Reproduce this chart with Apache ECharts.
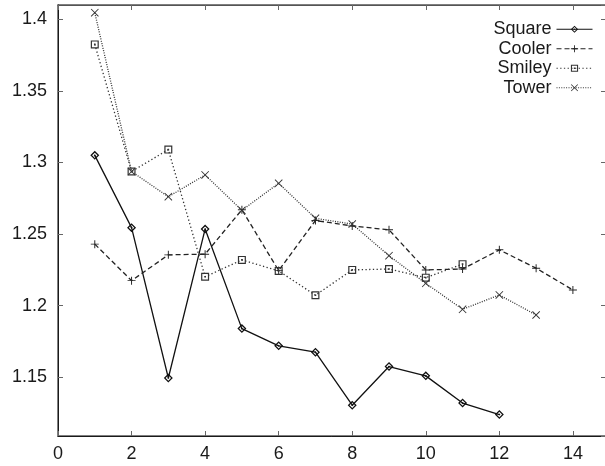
<!DOCTYPE html>
<html>
<head>
<meta charset="utf-8">
<script src="https://cdn.jsdelivr.net/npm/echarts@6/dist/echarts.min.js"></script>
<style>
  html, body { margin: 0; padding: 0; background: #fff; }
  #chart { width: 605px; height: 466px; }
</style>
</head>
<body>
<div id="chart"></div>
<script>
// x positions shared by all series
var steps = [1, 2, 3, 4, 5, 6, 7, 8, 9, 10, 11, 12, 13, 14];

// measured values per series
var square = [1.305, 1.2545, 1.1495, 1.2535, 1.184, 1.172, 1.1675, 1.1305, 1.1575, 1.151, 1.132, 1.124];
var cooler = [1.243, 1.2175, 1.2355, 1.236, 1.267, 1.2245, 1.2595, 1.2557, 1.253, 1.225, 1.2256, 1.239, 1.2262, 1.211];
var smiley = [1.3825, 1.2937, 1.309, 1.2202, 1.232, 1.2243, 1.2073, 1.225, 1.2256, 1.2196, 1.229];
var tower  = [1.4046, 1.2937, 1.2761, 1.2913, 1.2666, 1.2855, 1.261, 1.257, 1.2349, 1.2156, 1.1975, 1.2075, 1.1935];

var seriesNames = ['Square', 'Cooler', 'Smiley', 'Tower'];

// point glyphs in the classic plotting-terminal style
var SYM_DIAMOND = 'path://M50,0L100,50L50,100L0,50ZM50,20L20,50L50,80L80,50ZM50,38L62,50L50,62L38,50Z';
var SYM_PLUS = 'path://M44,0L56,0L56,100L44,100ZM0,44L100,44L100,56L0,56Z';
var SYM_BOX = 'path://M0,0L100,0L100,100L0,100ZM15,15L15,85L85,85L85,15ZM40,40L60,40L60,60L40,60Z';
var SYM_CROSS = 'path://M0,8L8,0L100,92L92,100ZM92,0L100,8L8,100L0,92Z';

function pairs(vals) {
  return vals.map(function (v, i) { return [steps[i], v]; });
}

var FONT = '"Liberation Sans", Arial, Helvetica, sans-serif';
var INK = '#1a1a1a';

function lineSeries(name, vals, symbol, size, dash, color) {
  return {
    name: name,
    type: 'line',
    data: pairs(vals),
    symbol: symbol,
    symbolSize: size,
    showAllSymbol: true,
    animation: false,
    z: 3,
    lineStyle: { color: color, width: 1.3, type: dash },
    itemStyle: { color: color, borderWidth: 0 }
  };
}

var chart = echarts.init(document.getElementById('chart'), null, { renderer: 'canvas' });

chart.setOption({
  backgroundColor: '#fff',
  animation: false,
  // frame: the right edge sits just past the canvas, so only top/left/bottom show
  grid: {
    left: 58, top: 5, width: 548, height: 431, containLabel: false,
    outerBoundsMode: 'none',
    show: true, borderColor: '#555', borderWidth: 1.5, backgroundColor: 'transparent'
  },
  legend: {
    data: seriesNames,
    orient: 'vertical',
    right: 12,
    top: 20,
    padding: 0,
    align: 'right',
    itemWidth: 36,
    itemHeight: 9,
    itemGap: 1,
    selectedMode: false,
    lineStyle: { width: 1 },
    textStyle: { fontFamily: FONT, fontSize: 18, color: INK, lineHeight: 18.5 }
  },
  xAxis: [{
    type: 'value',
    min: 0,
    max: 14.9,
    interval: 2,
    position: 'bottom',
    splitLine: { show: false },
    axisLine: { show: true, lineStyle: { color: INK, width: 1 } },
    axisTick: { show: true, inside: true, length: 5, lineStyle: { color: '#666', width: 1 } },
    axisLabel: { fontFamily: FONT, fontSize: 18, color: INK, margin: 9, showMaxLabel: false }
  }, {
    type: 'value',
    min: 0,
    max: 14.9,
    interval: 2,
    position: 'top',
    splitLine: { show: false },
    axisLine: { show: true, onZero: false, lineStyle: { color: '#555', width: 1.2 } },
    axisTick: { show: true, inside: true, length: 5, lineStyle: { color: '#666', width: 1 } },
    axisLabel: { show: false }
  }],
  yAxis: [{
    type: 'value',
    min: 1.109,
    max: 1.41,
    splitNumber: 6,
    position: 'left',
    splitLine: { show: false },
    axisLine: { show: true, lineStyle: { color: INK, width: 1 } },
    axisTick: { show: true, inside: true, length: 5, lineStyle: { color: '#666', width: 1 } },
    axisLabel: {
      fontFamily: FONT, fontSize: 18, color: INK, margin: 11,
      showMinLabel: false, showMaxLabel: false
    }
  }, {
    type: 'value',
    min: 1.109,
    max: 1.41,
    splitNumber: 6,
    position: 'right',
    splitLine: { show: false },
    axisLine: { show: false, onZero: false },
    axisTick: { show: true, inside: true, length: 5, lineStyle: { color: '#666', width: 1 } },
    axisLabel: { show: false }
  }],
  series: [
    lineSeries('Square', square, SYM_DIAMOND, 9, 'solid', '#111'),
    lineSeries('Cooler', cooler, SYM_PLUS, 8, [5, 3], '#222'),
    lineSeries('Smiley', smiley, SYM_BOX, 8, [1.3, 2.4], '#333'),
    lineSeries('Tower', tower, SYM_CROSS, 8, [1, 1.4], '#333')
  ]
});
</script>
</body>
</html>
